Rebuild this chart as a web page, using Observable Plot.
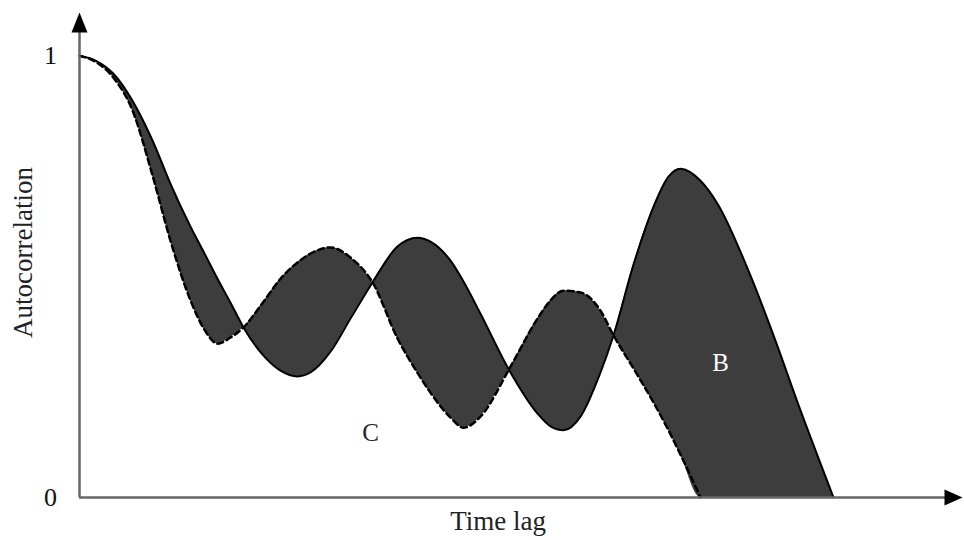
<!DOCTYPE html>
<html>
<head>
<meta charset="utf-8">
<script src="https://cdn.jsdelivr.net/npm/d3@7"></script>
<script src="https://cdn.jsdelivr.net/npm/@observablehq/plot@0.6"></script>
<style>
  html, body { margin: 0; padding: 0; background: #fff; }
  #chart svg { display: block; }
</style>
</head>
<body>
<div id="chart"></div>
<script>
// Time lag (arbitrary units)
const lag = [0, 16, 34, 53, 73, 91, 111, 126, 138, 151,
             164, 184, 201, 218, 231, 251, 271, 293, 318, 338,
             351, 371, 384, 401, 431, 458, 471, 484, 501, 521,
             534, 554, 574, 589, 601, 621, 638, 671, 694, 721, 754];
// Solid curve autocorrelation
const solid = [1.000, 0.989, 0.959, 0.898, 0.808, 0.710, 0.613, 0.548, 0.495, 0.441,
               0.385, 0.321, 0.287, 0.274, 0.283, 0.330, 0.405, 0.487, 0.568, 0.588,
               0.579, 0.536, 0.489, 0.416, 0.283, 0.190, 0.161, 0.152, 0.183, 0.283,
               0.367, 0.527, 0.658, 0.726, 0.744, 0.717, 0.665, 0.502, 0.367, 0.197, 0.000];
// Dashed curve autocorrelation (ends on the axis)
const dashed = [1.000, 0.986, 0.950, 0.876, 0.729, 0.581, 0.446, 0.376, 0.348, 0.362,
                0.385, 0.443, 0.495, 0.532, 0.552, 0.566, 0.543, 0.487, 0.360, 0.282,
                0.237, 0.181, 0.158, 0.183, 0.296, 0.405, 0.446, 0.468, 0.464, 0.423,
                0.367, 0.292, 0.215, 0.152, 0.097, 0.000, null, null, null, null, null];
const yTickLabels = [{v: 1, label: "1"}, {v: 0, label: "0"}];
const regionLabels = [{x: 291, y: 0.145, label: "C", color: "#222"}, {x: 641, y: 0.305, label: "B", color: "#fff"}];

const rows = lag.map((t, i) => ({t, solid: solid[i], dashed: dashed[i]}));

const upTri = {draw(ctx, size) { const r = Math.sqrt(size / Math.PI); ctx.moveTo(0, -r); ctx.lineTo(0.8 * r, r); ctx.lineTo(-0.8 * r, r); ctx.closePath(); }};
const rightTri = {draw(ctx, size) { const r = Math.sqrt(size / Math.PI); ctx.moveTo(r, 0); ctx.lineTo(-r, 0.9 * r); ctx.lineTo(-r, -0.9 * r); ctx.closePath(); }};

const font = "'Liberation Serif', 'Times New Roman', serif";

const chart = Plot.plot({
  width: 964,
  height: 540,
  marginLeft: 79,
  marginRight: 2,
  marginTop: 11,
  marginBottom: 43,
  style: {fontFamily: font, background: "#fff"},
  x: {domain: [0, 883], axis: null},
  y: {domain: [0, 1.1], axis: null},
  marks: [
    Plot.areaY(rows, {x: "t", y1: d => d.dashed ?? 0, y2: "solid", fill: "#3d3d3d", curve: "monotone-x", clip: true}),
    Plot.line(rows, {x: "t", y: "solid", stroke: "#000", strokeWidth: 2, curve: "monotone-x"}),
    Plot.line(rows.filter(d => d.dashed != null), {x: "t", y: "dashed", stroke: "#000", strokeWidth: 2.5, strokeDasharray: "6,4", curve: "monotone-x"}),
    Plot.ruleY([0], {x1: 0, x2: 868, stroke: "#666", strokeWidth: 2.5}),
    Plot.ruleX([0], {y1: 0, y2: 1.055, stroke: "#666", strokeWidth: 2.5}),
    Plot.dot([{x: 0, y: 1.075}], {x: "x", y: "y", symbol: upTri, r: 10, fill: "#000", stroke: "none"}),
    Plot.dot([{x: 874, y: 0}], {x: "x", y: "y", symbol: rightTri, r: 9, fill: "#000", stroke: "none"}),
    Plot.text(yTickLabels, {x: () => 0, y: "v", text: "label", dx: -29, dy: 0, fontSize: 26, fill: "#111"}),
    Plot.text(regionLabels, {x: "x", y: "y", text: "label", fill: "color", fontSize: 25}),
    Plot.text(["Autocorrelation"], {frameAnchor: "left", textAnchor: "middle", dx: -56, dy: -2, rotate: -90, fontSize: 27, fill: "#222"}),
    Plot.text(["Time lag"], {frameAnchor: "bottom", dx: -23, dy: 32, fontSize: 27, fill: "#222"})
  ]
});
document.getElementById("chart").appendChild(chart);
</script>
</body>
</html>
